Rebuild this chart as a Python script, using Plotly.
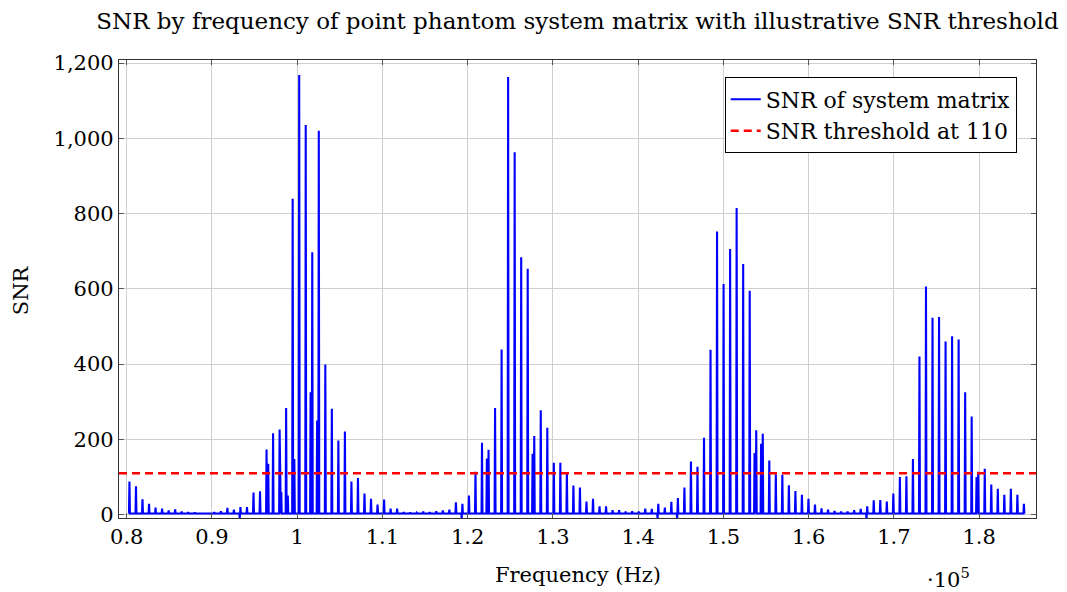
import plotly.graph_objects as go

# ---------------- data ----------------
# Spectral lines lie on a regular grid of frequency slots
SLOT0_HZ = 100233.0      # frequency of slot 0 (Hz)
SLOT_STEP_HZ = 765.9     # spacing between neighbouring lines (Hz)
FIRST_SLOT = -26

# peak SNR of each slot, from slot -26 to slot 111
snr_peaks = [
    88, 75, 41, 29, 19, 16, 11, 14, 8, 7,            # -26 .. -17
    6, 5, 5, 7, 9, 18, 13, 20, 20, 59,               # -16 .. -7
    62, 173, 216, 226, 283, 839,                      # -6 .. -1
    1168, 1035, 697, 1020, 399, 281, 197, 221, 88, 97,  # 0 .. 9
    56, 42, 27, 40, 16, 16, 7, 6, 5, 8,              # 10 .. 19
    7, 9, 11, 13, 33, 29, 51, 114, 191, 172,         # 20 .. 29
    283, 439, 1163, 963, 684, 653, 209, 277, 231, 138,  # 30 .. 39
    138, 111, 77, 72, 35, 42, 22, 22, 12, 12,        # 40 .. 49
    8, 9, 8, 16, 15, 29, 19, 34, 44, 72,             # 50 .. 59
    141, 127, 204, 438, 752, 613, 706, 815, 666, 595,  # 60 .. 69
    224, 215, 144, 107, 106, 78, 63, 53, 42, 27,     # 70 .. 79
    17, 13, 10, 8, 8, 12, 15, 22, 38, 39,            # 80 .. 89
    35, 56, 100, 102, 148, 420, 606, 523, 525, 460,  # 90 .. 99
    474, 465, 325, 261, 114, 122, 80, 69, 53, 69,    # 100 .. 109
    53, 29,                                          # 110 .. 111
]

# weaker neighbouring lines sitting beside some of the main lines
side_slots = [-5, -3, -2, -1, 2, 3, 29, 36, 70, 71, 104]
side_snr = [135, 60, 51, 148, 325, 250, 149, 162, 164, 188, 100]
side_offset_hz = [195, 195, 195, 195, -195, -195, -195, -195, -195, -195, -195]

# small negative excursions of the noise floor (just before a line)
dip_slots = [-9, 25, 55, 58, 87]
dip_snr = [-10, -10, -11, -11, -11]

noise_floor = 3
snr_threshold = 110

x_tick_vals = [0.8, 0.9, 1.0, 1.1, 1.2, 1.3, 1.4, 1.5, 1.6, 1.7, 1.8]
x_tick_text = ["0.8", "0.9", "1", "1.1", "1.2", "1.3", "1.4", "1.5", "1.6", "1.7", "1.8"]
y_tick_vals = [0, 200, 400, 600, 800, 1000, 1200]

# ---------------- build the spectrum line ----------------
HALF = 55.0  # half width of a line (Hz)
dip_of = dict(zip(dip_slots, dip_snr))
pts = []
slots = list(range(FIRST_SLOT, FIRST_SLOT + len(snr_peaks)))
for k, v in zip(slots, snr_peaks):
    f = SLOT0_HZ + k * SLOT_STEP_HZ
    if k in dip_of:
        pts += [(f - 2.5 * HALF, noise_floor), (f - 1.5 * HALF, dip_of[k])]
    pts += [(f - HALF, noise_floor), (f, v), (f + HALF, noise_floor)]
for k, v, off in zip(side_slots, side_snr, side_offset_hz):
    f = SLOT0_HZ + k * SLOT_STEP_HZ + off
    pts += [(f - HALF, noise_floor), (f, v), (f + HALF, noise_floor)]
pts.sort(key=lambda p: p[0])
xs = [p[0] / 1e5 for p in pts]
ys = [p[1] for p in pts]

x_lo = (SLOT0_HZ + (FIRST_SLOT - 1.6) * SLOT_STEP_HZ) / 1e5
x_hi = (SLOT0_HZ + (slots[-1] + 1.85) * SLOT_STEP_HZ) / 1e5

FONT = "DejaVu Serif"
FS = 21

fig = go.Figure()
fig.add_trace(go.Scatter(
    x=xs, y=ys, mode="lines", name="SNR of system matrix",
    line=dict(color="#0000ff", width=2.1),
))
fig.add_trace(go.Scatter(
    x=[x_lo, x_hi], y=[snr_threshold, snr_threshold], mode="lines",
    name="SNR threshold at 110",
    line=dict(color="#ff0000", width=2.6, dash="8px,5px"),
))

axis_common = dict(
    showline=True, linecolor="#333333", linewidth=1.2, mirror="allticks",
    ticks="inside", ticklen=5, tickcolor="#555555",
    showgrid=True, gridcolor="#cfcfcf", gridwidth=1,
    zeroline=False,
    tickfont=dict(family=FONT, size=FS, color="black"),
)

fig.update_layout(
    width=1067, height=592,
    margin=dict(l=119, r=31, t=60, b=74),
    paper_bgcolor="white", plot_bgcolor="white",
    title=dict(
        text="SNR by frequency of point phantom system matrix with illustrative SNR threshold",
        x=0.5, xref="paper", xanchor="center",
        y=0.965, yref="container", yanchor="middle",
        font=dict(family=FONT, size=23, color="black"),
    ),
    xaxis=dict(range=[x_lo, x_hi], tickvals=x_tick_vals, ticktext=x_tick_text, **axis_common),
    yaxis=dict(range=[-9, 1208], tickvals=y_tick_vals, tickformat=",d", **axis_common),
    legend=dict(
        x=0.979, y=0.962, xanchor="right", yanchor="top",
        bgcolor="white", bordercolor="black", borderwidth=1,
        font=dict(family=FONT, size=22, color="black"),
        tracegroupgap=0,
    ),
    showlegend=True,
    annotations=[
        dict(text="Frequency (Hz)", x=0.5, xref="paper", y=-0.125, yref="paper",
             xanchor="center", yanchor="middle", showarrow=False,
             font=dict(family=FONT, size=FS, color="black")),
        dict(text="·10<sup>5</sup>", x=0.905, xref="paper", y=-0.13, yref="paper",
             xanchor="center", yanchor="middle", showarrow=False,
             font=dict(family=FONT, size=FS, color="black")),
        dict(text="SNR", x=-0.106, xref="paper", y=0.497, yref="paper",
             xanchor="center", yanchor="middle", showarrow=False, textangle=-90,
             font=dict(family=FONT, size=FS, color="black")),
    ],
)

fig.write_html("out.html")
